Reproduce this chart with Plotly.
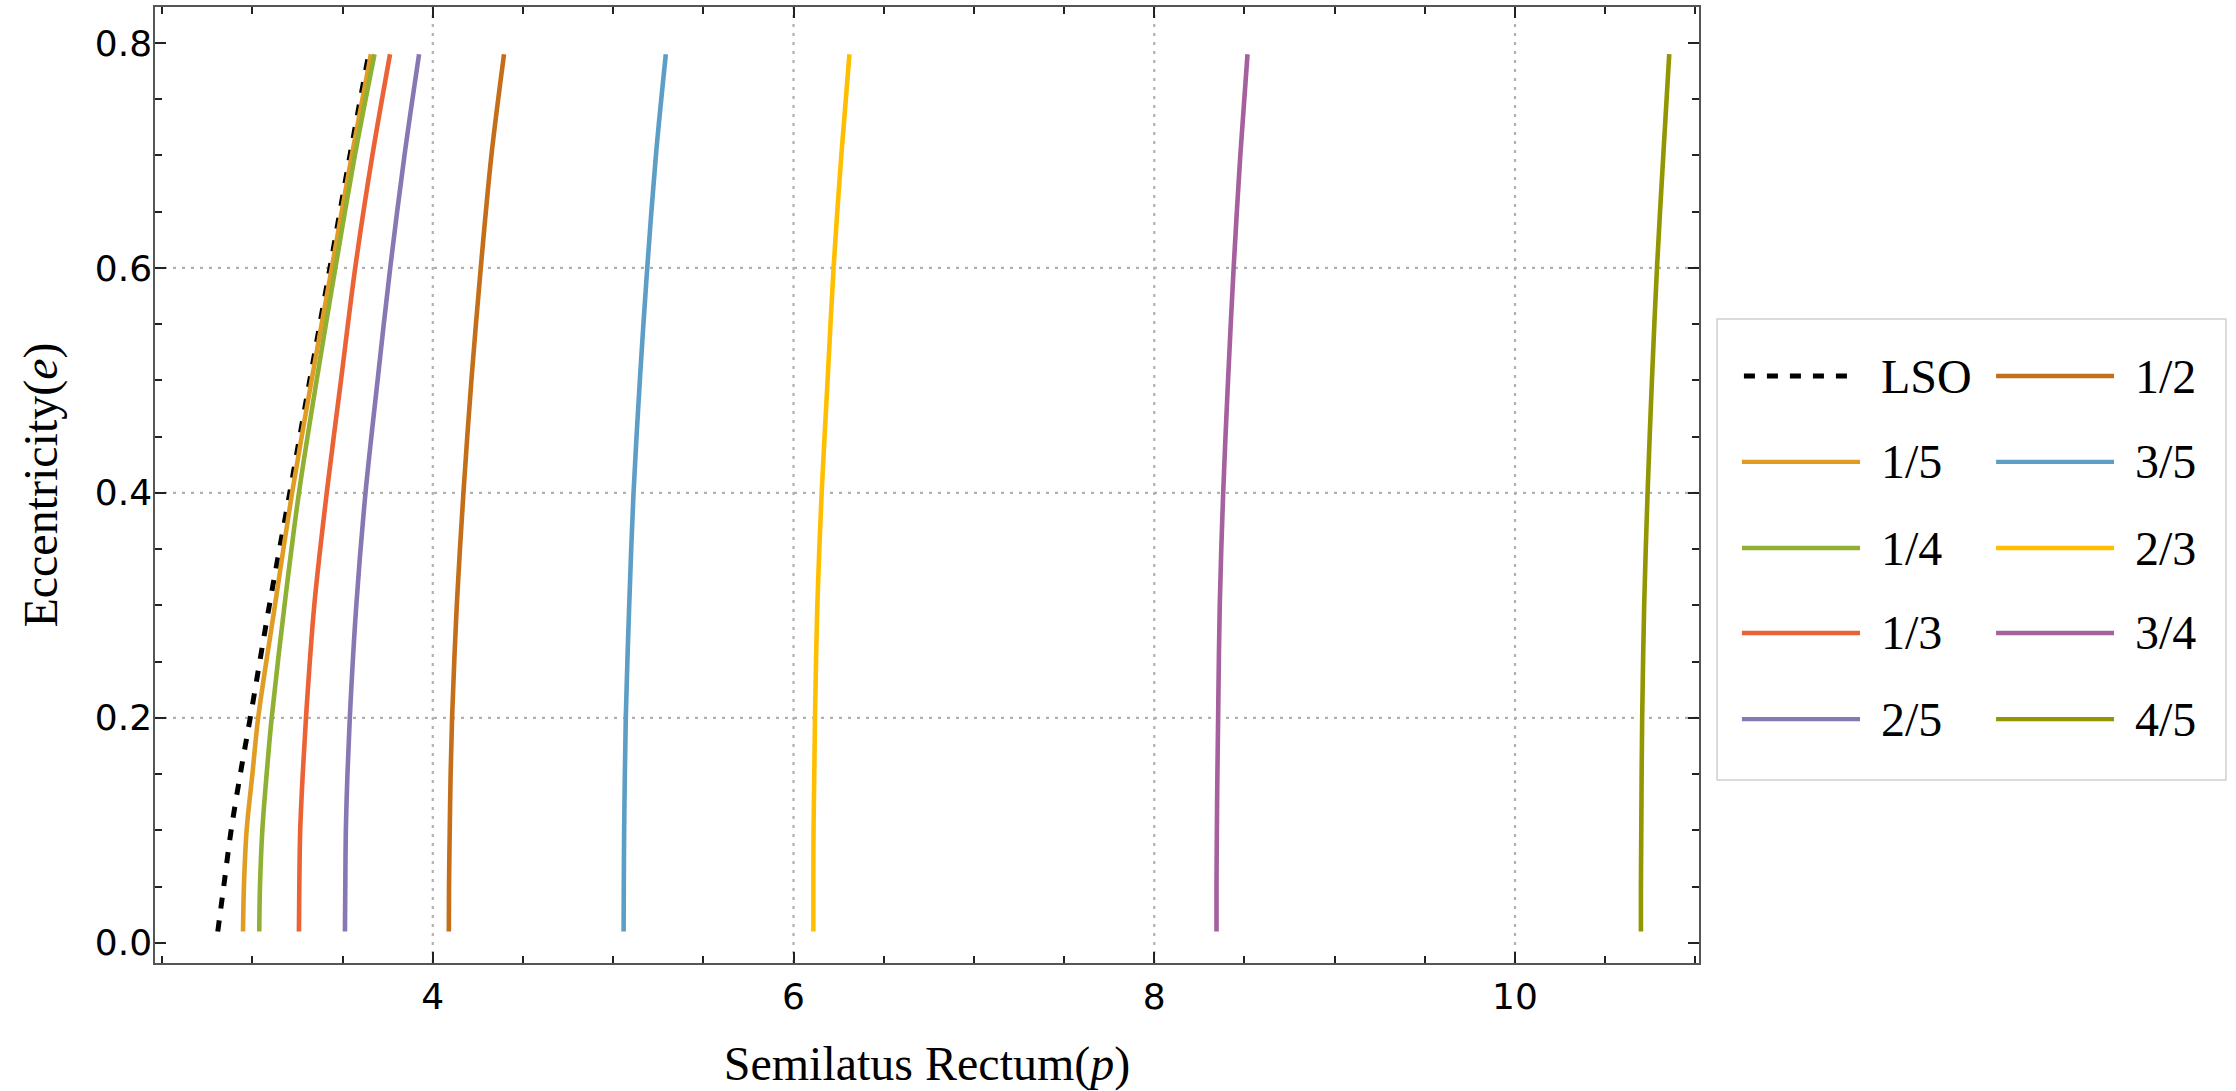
import plotly.graph_objects as go

# Eccentricity samples shared by every curve
ECC = [0.01, 0.05, 0.10, 0.15, 0.20, 0.30, 0.40, 0.50, 0.60, 0.70, 0.79]

# Semilatus rectum p(e) for the last stable orbit and each resonance
P_LSO = [2.808, 2.841, 2.882, 2.933, 2.988, 3.094, 3.207, 3.318, 3.430, 3.541, 3.645]
P_1_5 = [2.948, 2.953, 2.968, 3.000, 3.032, 3.125, 3.220, 3.328, 3.440, 3.551, 3.657]
P_1_4 = [3.038, 3.042, 3.055, 3.079, 3.107, 3.178, 3.258, 3.356, 3.460, 3.568, 3.677]
P_1_3 = [3.258, 3.260, 3.265, 3.279, 3.297, 3.343, 3.412, 3.491, 3.570, 3.665, 3.763]
P_2_5 = [3.513, 3.515, 3.518, 3.527, 3.540, 3.576, 3.627, 3.694, 3.764, 3.843, 3.924]
P_1_2 = [4.089, 4.090, 4.094, 4.099, 4.107, 4.133, 4.170, 4.214, 4.266, 4.325, 4.395]
P_3_5 = [5.058, 5.059, 5.061, 5.065, 5.070, 5.089, 5.113, 5.148, 5.189, 5.237, 5.292]
P_2_3 = [6.110, 6.110, 6.111, 6.115, 6.119, 6.132, 6.156, 6.189, 6.222, 6.265, 6.310]
P_3_4 = [8.345, 8.345, 8.347, 8.350, 8.354, 8.363, 8.382, 8.409, 8.440, 8.477, 8.517]
P_4_5 = [10.698, 10.698, 10.700, 10.702, 10.705, 10.716, 10.735, 10.759, 10.787, 10.822, 10.855]

LABELS = ["LSO", "1/5", "1/4", "1/3", "2/5", "1/2", "3/5", "2/3", "3/4", "4/5"]
SERIES = [P_LSO, P_1_5, P_1_4, P_1_3, P_2_5, P_1_2, P_3_5, P_2_3, P_3_4, P_4_5]
COLORS = ["#000000", "#E19C24", "#8FB032", "#EB6235", "#8778B3",
          "#C56E1A", "#5D9EC7", "#FFBF00", "#A5609D", "#929600"]

X_TICKS = [4, 6, 8, 10]
Y_TICKS = [0.0, 0.2, 0.4, 0.6, 0.8]
X_GRID = [4, 6, 8, 10]
Y_GRID = [0.2, 0.4, 0.6]

LSO_DASH = "11px,12px"
GRID_DASH = "3px,6px"
SERIF = "Liberation Serif"
SANS = "DejaVu Sans"

fig = go.Figure()

for name, p, color in zip(LABELS, SERIES, COLORS):
    dashed = name == "LSO"
    fig.add_trace(go.Scatter(
        x=p, y=ECC, mode="lines", name=name, showlegend=False,
        line=dict(color=color, width=5 if dashed else 4.6,
                  dash=LSO_DASH if dashed else "solid", shape="spline", smoothing=0.9),
    ))

shapes = []
# dotted grid at the interior major ticks
for gx in X_GRID:
    shapes.append(dict(type="line", xref="x", yref="paper", x0=gx, x1=gx, y0=0, y1=1,
                       line=dict(color="#b0b0b0", width=2.2, dash=GRID_DASH), layer="below"))
for gy in Y_GRID:
    shapes.append(dict(type="line", xref="paper", yref="y", x0=0, x1=1, y0=gy, y1=gy,
                       line=dict(color="#b0b0b0", width=2.2, dash=GRID_DASH), layer="below"))

# two-column legend box to the right of the frame
shapes.append(dict(type="rect", xref="paper", yref="paper",
                   x0=1.0117, x1=1.3413, y0=0.1914, y1=0.6736,
                   line=dict(color="#d0d0d0", width=1.5), fillcolor="white"))

ROW_Y = [0.6140, 0.5241, 0.4341, 0.3452, 0.2552]
COL_LINE = [(1.0278, 1.1043), (1.1924, 1.2688)]
COL_TEXT = [1.1166, 1.2811]
annotations = []
for i, (name, color) in enumerate(zip(LABELS, COLORS)):
    col, row = divmod(i, 5)
    x0, x1 = COL_LINE[col]
    yy = ROW_Y[row]
    dashed = name == "LSO"
    if dashed:
        x0 += 0.0013
        x1 -= 0.006
    shapes.append(dict(type="line", xref="paper", yref="paper", x0=x0, x1=x1, y0=yy, y1=yy,
                       line=dict(color=color, width=5 if dashed else 4.3,
                                 dash=LSO_DASH if dashed else "solid")))
    annotations.append(dict(xref="paper", yref="paper", x=COL_TEXT[col], y=yy,
                            xanchor="left", yanchor="middle", showarrow=False,
                            text=name, font=dict(family=SERIF, size=48, color="black")))

axis_common = dict(
    showline=True, linecolor="#555555", linewidth=1.5, mirror="allticks",
    ticks="inside", ticklen=11, tickwidth=1.5, tickcolor="#222222",
    showgrid=False, zeroline=False,
    tickfont=dict(family=SANS, size=36, color="black"),
)

fig.update_layout(
    width=2236, height=1091,
    margin=dict(l=155, r=537, t=7, b=128, autoexpand=False),
    paper_bgcolor="white", plot_bgcolor="white",
    shapes=shapes, annotations=annotations,
    xaxis=dict(
        range=[2.46, 11.02], tickvals=X_TICKS, ticktext=[str(v) for v in X_TICKS],
        minor=dict(ticks="inside", ticklen=7, tickwidth=1.5, tickcolor="#222222",
                   dtick=0.5, tick0=0, showgrid=False),
        ticklabelstandoff=1,
        title=dict(text="Semilatus Rectum(<i>p</i>)", standoff=30,
                   font=dict(family=SERIF, size=48, color="black")),
        **axis_common,
    ),
    yaxis=dict(
        range=[-0.018, 0.832], tickvals=Y_TICKS, ticktext=[f"{v:.1f}" for v in Y_TICKS],
        minor=dict(ticks="inside", ticklen=7, tickwidth=1.5, tickcolor="#222222",
                   dtick=0.05, tick0=0, showgrid=False),
        ticklabelstandoff=-6,
        title=dict(text="Eccentricity(<i>e</i>)", standoff=22,
                   font=dict(family=SERIF, size=48, color="black")),
        **axis_common,
    ),
)

fig.write_html("out.html")
